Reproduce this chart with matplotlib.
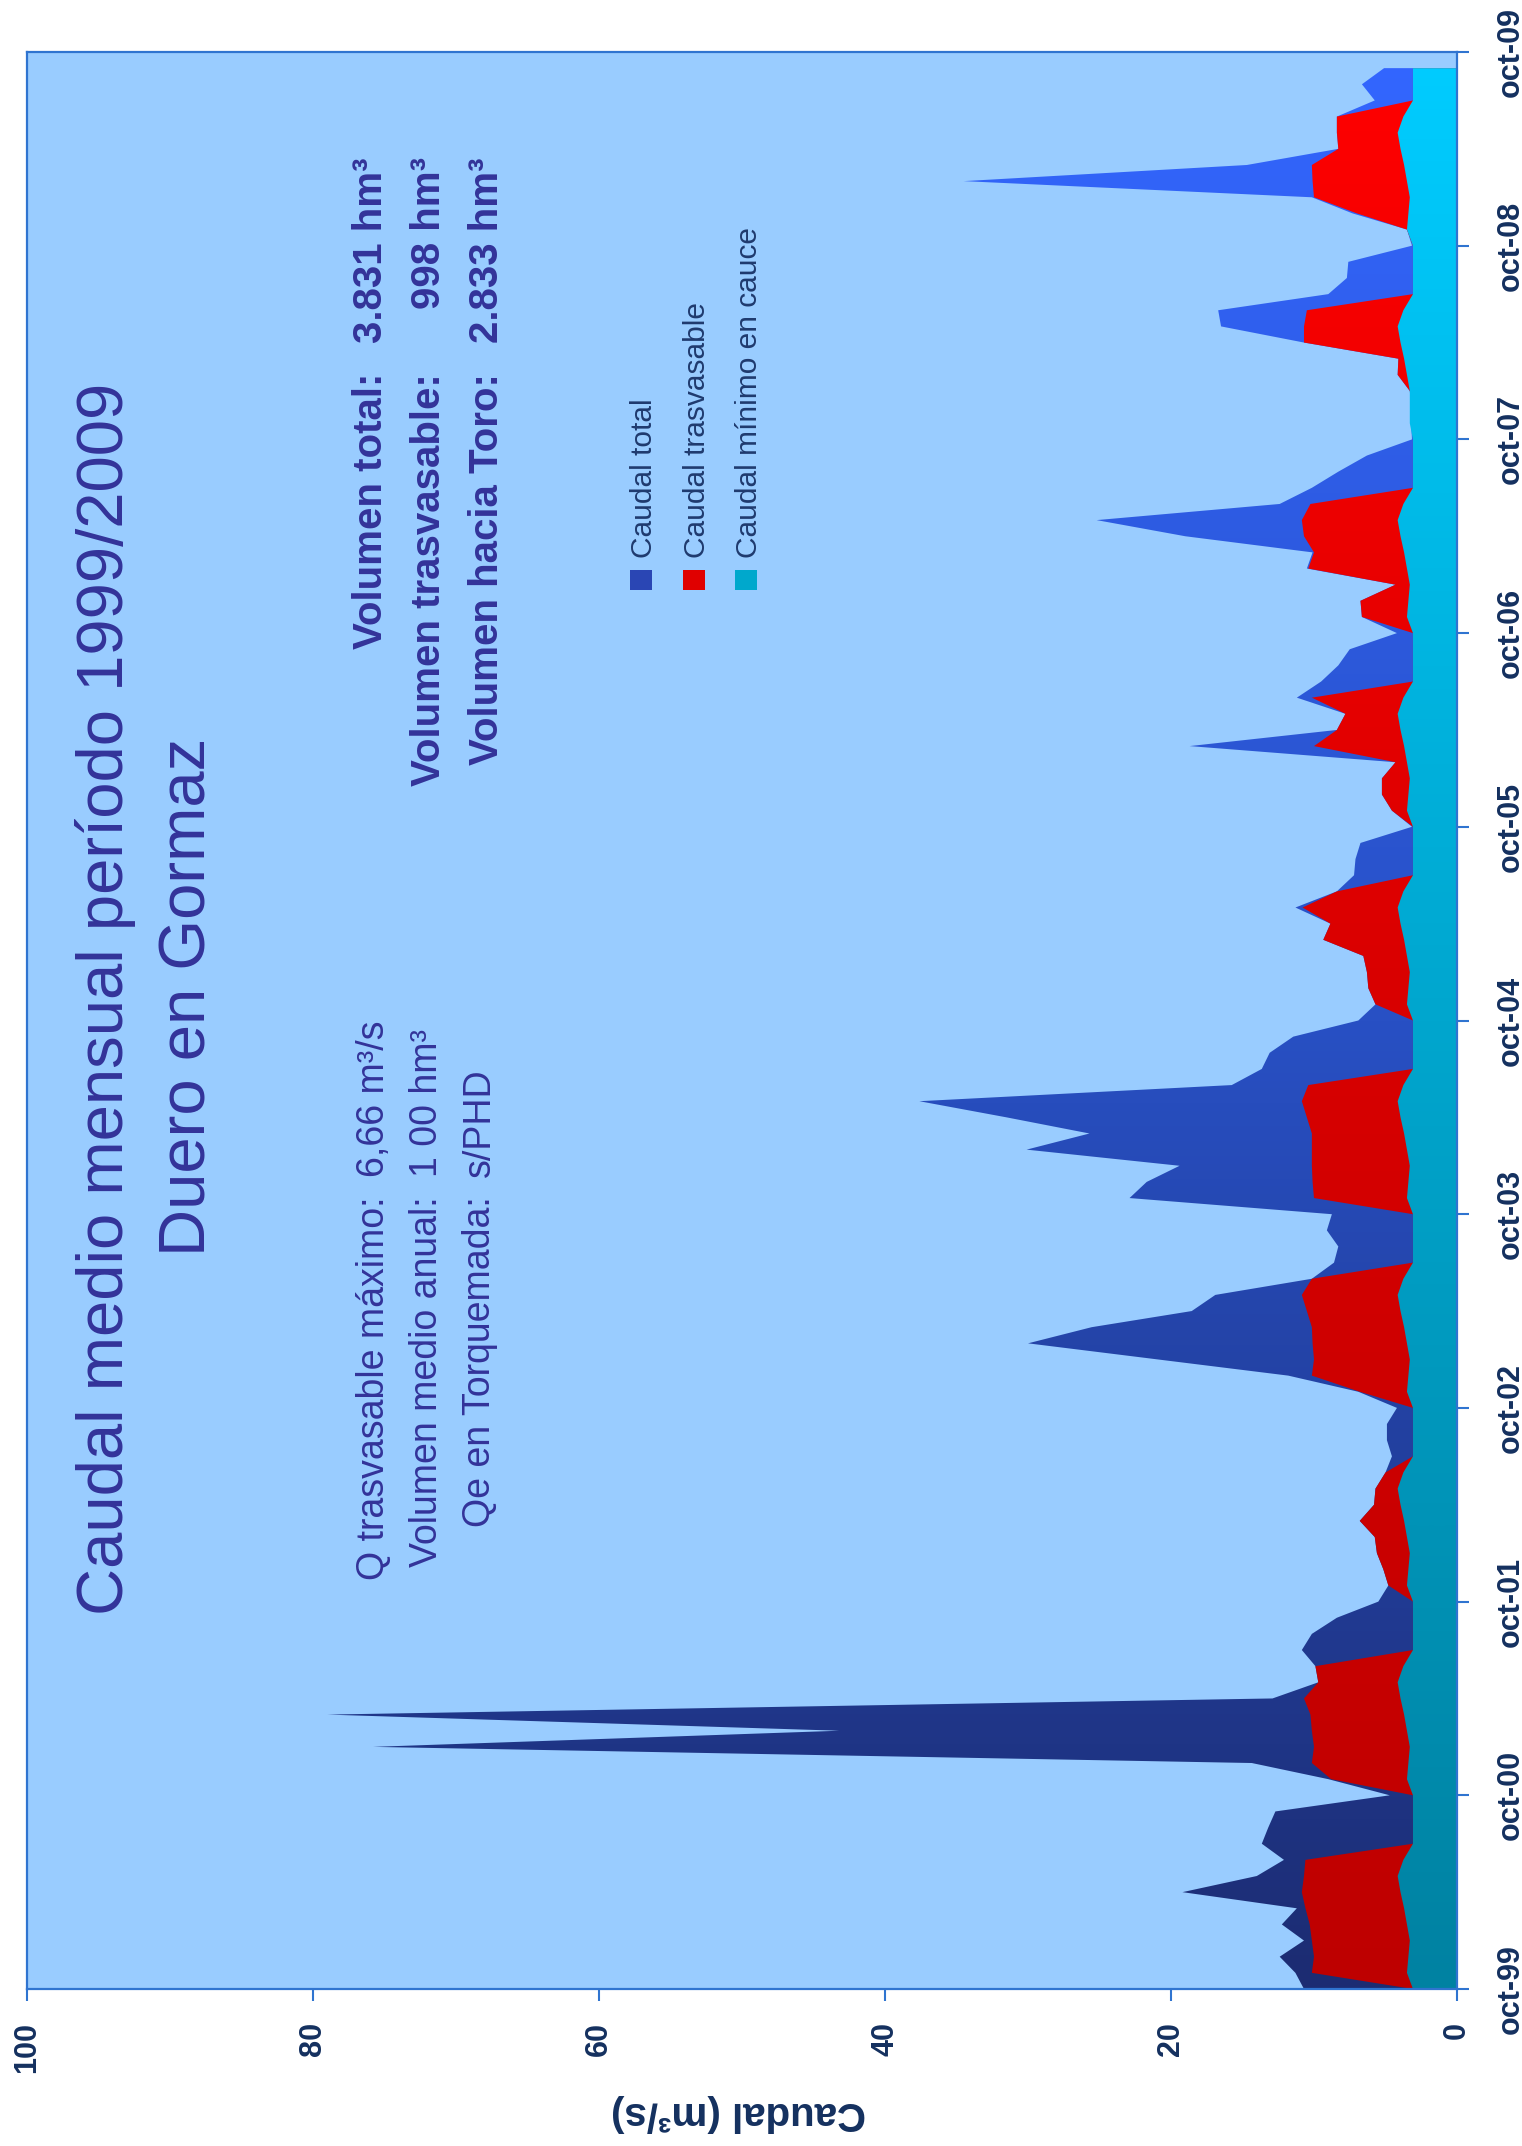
import numpy as np
import matplotlib
matplotlib.use("Agg")
import matplotlib.pyplot as plt
from matplotlib.colors import LinearSegmentedColormap
from matplotlib.patches import Rectangle

plt.rcParams['font.family'] = ['Liberation Sans', 'DejaVu Sans']

# ---------------- data (monthly, oct-1999 .. sep-2009) ----------------
tick_labels = ['oct-99', 'oct-00', 'oct-01', 'oct-02', 'oct-03', 'oct-04',
               'oct-05', 'oct-06', 'oct-07', 'oct-08', 'oct-09']
value_ticks = [0, 20, 40, 60, 80, 100]

caudal_total = [
    10.7, 11.3, 12.4, 10.7, 12.25, 11.2, 19.2, 14.0, 12.1, 13.65, 13.2, 12.7,     # 99-00
    4.7, 9.0, 14.35, 75.8, 43.2, 79.0, 12.9, 9.7, 9.9, 10.85, 10.15, 8.4,         # 00-01
    5.5, 4.8, 5.15, 5.6, 5.75, 6.8, 5.8, 5.7, 5.0, 4.55, 4.9, 4.9,                # 01-02
    4.2, 6.9, 11.8, 20.9, 30.0, 25.55, 18.55, 16.9, 10.15, 8.6, 8.3, 9.1,         # 02-03
    8.75, 22.9, 21.7, 19.4, 30.1, 25.7, 31.5, 37.6, 15.75, 13.65, 13.1, 11.45,    # 03-04
    6.9, 5.7, 6.2, 6.3, 6.55, 9.35, 8.85, 11.3, 8.4, 7.2, 7.1, 6.75,              # 04-05
    3.15, 4.55, 5.25, 5.25, 4.3, 18.7, 8.4, 7.8, 11.2, 9.5, 8.3, 7.5,             # 05-06
    4.2, 6.65, 6.75, 4.3, 10.5, 10.1, 19.0, 25.2, 12.4, 10.15, 8.3, 6.3,          # 06-07
    3.15, 3.2, 3.2, 3.3, 4.15, 4.1, 10.7, 16.5, 16.7, 9.0, 7.7, 7.6,              # 07-08
    3.15, 3.5, 7.3, 10.15, 34.5, 14.7, 8.3, 8.4, 8.4, 5.75, 6.65, 5.1,            # 08-09
]

caudal_trasvasable = [
    3.08, 10.15, 10.0, 10.15, 10.3, 10.6, 10.85, 10.7, 10.6, 3.08, 3.08, 3.08,
    3.08, 8.8, 10.15, 10.0, 10.15, 10.25, 10.7, 9.7, 9.9, 3.08, 3.08, 3.08,
    3.08, 4.8, 5.15, 5.6, 5.75, 6.8, 5.8, 5.7, 5.0, 3.08, 3.08, 3.08,
    3.08, 6.8, 10.15, 10.0, 10.1, 10.15, 10.5, 10.85, 10.15, 3.08, 3.08, 3.08,
    3.08, 10.0, 10.1, 10.15, 10.15, 10.15, 10.5, 10.85, 10.4, 3.08, 3.08, 3.08,
    3.08, 5.7, 6.2, 6.3, 6.55, 9.35, 8.85, 10.8, 8.4, 3.08, 3.08, 3.08,
    3.08, 4.55, 5.25, 5.25, 4.3, 10.0, 8.4, 7.8, 10.15, 3.08, 3.08, 3.08,
    3.08, 6.65, 6.75, 4.3, 10.4, 10.0, 10.7, 10.85, 10.25, 3.08, 3.08, 3.08,
    3.08, 3.08, 3.08, 3.3, 4.15, 4.1, 10.7, 10.7, 10.5, 3.08, 3.08, 3.08,
    3.08, 3.5, 7.0, 10.0, 10.1, 10.15, 8.3, 8.4, 8.4, 3.08, 3.08, 3.08,
]

caudal_minimo = [
    3.08, 3.5, 3.4, 3.3, 3.5, 3.7, 3.95, 4.15, 3.75, 3.08, 3.08, 3.08,
    3.08, 3.5, 3.4, 3.3, 3.5, 3.7, 3.95, 4.15, 3.75, 3.08, 3.08, 3.08,
    3.08, 3.5, 3.4, 3.3, 3.5, 3.7, 3.95, 4.15, 3.75, 3.08, 3.08, 3.08,
    3.08, 3.5, 3.4, 3.3, 3.5, 3.7, 3.95, 4.15, 3.75, 3.08, 3.08, 3.08,
    3.08, 3.5, 3.4, 3.3, 3.5, 3.7, 3.95, 4.15, 3.75, 3.08, 3.08, 3.08,
    3.08, 3.5, 3.4, 3.3, 3.5, 3.7, 3.95, 4.15, 3.75, 3.08, 3.08, 3.08,
    3.08, 3.5, 3.4, 3.3, 3.5, 3.7, 3.95, 4.15, 3.75, 3.08, 3.08, 3.08,
    3.08, 3.5, 3.4, 3.3, 3.5, 3.7, 3.95, 4.15, 3.75, 3.08, 3.08, 3.08,
    3.08, 3.3, 3.3, 3.3, 3.5, 3.7, 3.95, 4.15, 3.75, 3.08, 3.08, 3.08,
    3.08, 3.5, 3.4, 3.3, 3.5, 3.7, 3.95, 4.15, 3.75, 3.08, 3.08, 3.08,
]

stats_labels = ['Volumen total:', 'Volumen trasvasable:', 'Volumen hacia Toro:']
stats_values = ['3.831 hm³', '998 hm³', '2.833 hm³']
info_labels = ['Q trasvasable máximo:', 'Volumen medio anual:', 'Qe en Torquemada:']
info_values = ['6,66 m³/s', '1 00 hm³', 's/PHD']
legend_labels = ['Caudal total', 'Caudal trasvasable', 'Caudal mínimo en cauce']

# ---------------- styling ----------------
W, H = 1522, 2146
BG = '#99CCFF'
FRAME = '#2F74D0'
NAVY = '#14305F'
INDIGO = '#333399'
LEGTXT = '#1F3A6E'

blue_cols = ['#1C2C72', '#2850C4', '#3366FF']
red_cols = ['#BE0000', '#D80000', '#FF0000']
cyan_cols = ['#0082A2', '#00A6CE', '#00CCFF']

def fx(x):
    return x / W

def fy(y):
    return 1 - y / H

fig = plt.figure(figsize=(W / 100, H / 100), dpi=100)
fig.patch.set_facecolor('white')

ax = fig.add_axes([fx(27), fy(1989), (1457 - 27) / W, (1989 - 52) / H])
ax.set_facecolor(BG)

months = np.arange(len(caudal_total))

def grad_fill(vals, cols, z):
    poly = ax.fill_betweenx(months, 0, vals, facecolor='none', edgecolor='none')
    cmap = LinearSegmentedColormap.from_list('g', cols)
    grad = np.linspace(0, 1, 256).reshape(-1, 1)
    im = ax.imshow(grad, extent=(0, 100, 0, 120), origin='lower', aspect='auto',
                   cmap=cmap, interpolation='bilinear', zorder=z)
    im.set_clip_path(poly.get_paths()[0], ax.transData)

grad_fill(caudal_total, blue_cols, 1)
grad_fill(caudal_trasvasable, red_cols, 2)
grad_fill(caudal_minimo, cyan_cols, 3)

ax.set_xlim(100, 0)
ax.set_ylim(0, 120)
ax.set_aspect('auto')

for s in ax.spines.values():
    s.set_color(FRAME)
    s.set_linewidth(1.6)
    s.set_zorder(5)

ax.set_xticks(value_ticks)
ax.set_xticklabels([str(v) for v in value_ticks])
ax.yaxis.tick_right()
ax.set_yticks(np.arange(0, 121, 12))
ax.set_yticklabels(tick_labels)
ax.tick_params(axis='both', direction='out', length=8.6, width=1.5, color=FRAME,
               labelsize=22, labelcolor=NAVY)
ax.tick_params(axis='x', pad=15)
ax.tick_params(axis='y', pad=19)
for lab in ax.get_xticklabels():
    lab.set_rotation(90)
    lab.set_fontweight('bold')
    lab.set_va('top')
    lab.set_ha('center')
for lab in ax.get_yticklabels():
    lab.set_rotation(90)
    lab.set_fontweight('bold')
    lab.set_va('center')
    lab.set_ha('left')

fig.text(fx(738), fy(2113), 'Caudal (m³/s)', rotation=180, ha='center', va='center',
         fontsize=29, fontweight='bold', color=NAVY)

def rtext(xb, y, s, ha, **kw):
    fig.text(fx(xb), fy(y), s, rotation=90, rotation_mode='anchor', ha=ha,
             va='baseline', **kw)

# title
rtext(123, 999, 'Caudal medio mensual período 1999/2009', 'center', fontsize=47, color=INDIGO)
rtext(205, 997, 'Duero en Gormaz', 'center', fontsize=47, color=INDIGO)

# volumes block
for k, xb in enumerate([382, 440, 498]):
    rtext(xb, 373, stats_labels[k], 'right', fontsize=29, fontweight='bold', color=INDIGO)
    rtext(xb, 157, stats_values[k], 'right', fontsize=29, fontweight='bold', color=INDIGO)

# info block
for k, xb in enumerate([384, 437, 490]):
    rtext(xb, 1196, info_labels[k], 'right', fontsize=27, color=INDIGO)
    rtext(xb, 1177, info_values[k], 'left', fontsize=27, color=INDIGO)

# legend
sw_cols = ['#2A46B4', '#E00000', '#00A8CC']
for k, xb in enumerate([652, 705, 757]):
    fig.patches.append(Rectangle((fx(xb - 22), fy(590)), 22 / W, 20 / H,
                                 transform=fig.transFigure, facecolor=sw_cols[k],
                                 edgecolor='none', zorder=5))
    rtext(xb, 558, legend_labels[k], 'left', fontsize=21.5, color=LEGTXT)

fig.savefig('out.png', dpi=100, facecolor='white')
